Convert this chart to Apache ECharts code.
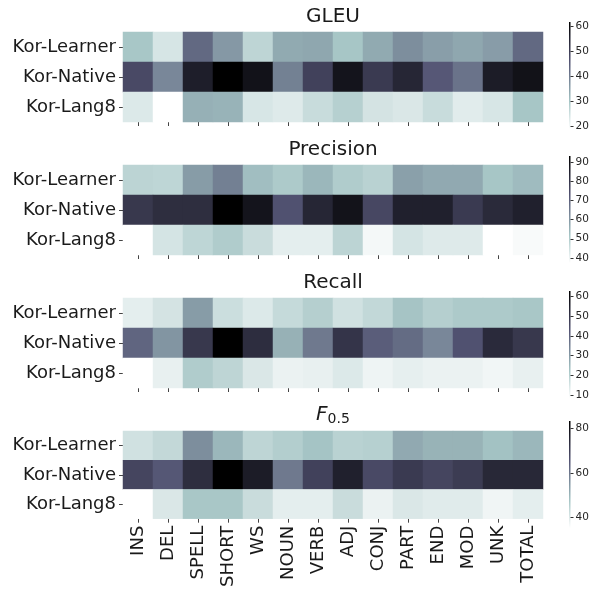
<!DOCTYPE html>
<html><head><meta charset="utf-8">
<script src="https://cdn.jsdelivr.net/npm/echarts@6/dist/echarts.min.js"></script>
<style>html,body{margin:0;padding:0;background:#fff}#c{width:590px;height:590px}</style>
</head><body><div id="c"></div>
<script>
const categories = ['INS','DEL','SPELL','SHORT','WS','NOUN','VERB','ADJ','CONJ','PART','END','MOD','UNK','TOTAL'];
const corpora = ['Kor-Learner','Kor-Native','Kor-Lang8'];

const gleuLearner = [29.6, 23.8, 42.9, 36.3, 26.8, 33.8, 34.2, 29.7, 33.8, 37.7, 35.4, 34.2, 35.7, 42.9];
const gleuNative  = [47.9, 38.6, 56.1, 61.9, 58.4, 39.6, 49.3, 58.0, 50.6, 54.5, 45.4, 41.5, 56.5, 58.5];
const gleuLang8   = [23.1, 18.8, 32.9, 32.5, 23.7, 22.9, 25.6, 27.8, 24.1, 23.4, 25.6, 22.5, 23.7, 29.7];
const gleuRange = [18.8, 61.9];
const gleuTicks = [20, 30, 40, 50, 60];

const precLearner = [48.0, 47.7, 59.3, 64.3, 53.0, 50.6, 54.3, 50.1, 48.5, 58.5, 56.8, 56.8, 51.5, 53.5];
const precNative  = [79.2, 81.7, 81.7, 93.0, 88.0, 73.0, 83.5, 88.3, 75.5, 85.0, 85.0, 78.5, 82.5, 85.0];
const precLang8   = [37.4, 44.2, 47.7, 50.1, 46.1, 41.7, 41.7, 48.0, 39.1, 44.2, 42.6, 42.6, 37.4, 38.5];
const precRange = [37.4, 93.0];
const precTicks = [40, 50, 60, 70, 80, 90];

const recLearner = [12.7, 15.2, 29.9, 16.7, 13.9, 17.6, 20.1, 15.8, 18.0, 22.6, 20.1, 21.4, 21.4, 22.0];
const recNative  = [39.6, 31.1, 49.4, 62.9, 51.9, 26.2, 36.0, 50.2, 40.9, 38.4, 33.5, 43.3, 52.6, 49.4];
const recLang8   = [8.5, 12.1, 20.9, 18.6, 14.3, 11.7, 12.1, 13.9, 11.2, 12.4, 11.7, 11.7, 10.7, 12.1];
const recRange = [8.5, 62.9];
const recTicks = [10, 20, 30, 40, 50, 60];

const f05Learner = [41.8, 43.7, 56.4, 50.0, 44.3, 45.9, 47.9, 45.0, 45.4, 52.1, 50.7, 50.7, 48.3, 50.0];
const f05Native  = [68.6, 65.0, 73.6, 83.3, 77.3, 59.6, 69.3, 76.4, 67.8, 70.8, 68.6, 70.4, 74.7, 74.7];
const f05Lang8   = [35.4, 40.5, 47.3, 47.3, 42.9, 39.1, 39.1, 42.9, 38.2, 40.5, 39.6, 39.6, 37.5, 39.1];
const f05Range = [35.4, 83.3];
const f05Ticks = [40, 60, 80];

const panels = [
  {title: 'GLEU', rows: [gleuLearner, gleuNative, gleuLang8], range: gleuRange, ticks: gleuTicks},
  {title: 'Precision', rows: [precLearner, precNative, precLang8], range: precRange, ticks: precTicks},
  {title: 'Recall', rows: [recLearner, recNative, recLang8], range: recRange, ticks: recTicks},
  {title: 'F0.5', rows: [f05Learner, f05Native, f05Lang8], range: f05Range, ticks: f05Ticks}
];

// matplotlib bone_r colormap
function interp(segs, x) {
  for (let i = 1; i < segs.length; i++) {
    if (x <= segs[i][0]) {
      const a = segs[i-1], b = segs[i];
      return a[1] + (b[1] - a[1]) * (x - a[0]) / (b[0] - a[0]);
    }
  }
  return segs[segs.length-1][1];
}
function boneR(t) {
  const s = 1 - t;
  const r = interp([[0,0],[0.746032,0.652778],[1,1]], s);
  const g = interp([[0,0],[0.365079,0.319444],[0.746032,0.777778],[1,1]], s);
  const b = interp([[0,0],[0.365079,0.444444],[1,1]], s);
  return 'rgb(' + Math.round(r*255) + ',' + Math.round(g*255) + ',' + Math.round(b*255) + ')';
}
const N = 40;
const boneColors = [];
for (let i = 0; i <= N; i++) boneColors.push(boneR(i / N));
const gradStops = [];
for (let i = 0; i <= N; i++) gradStops.push({offset: i / N, color: boneR(1 - i / N)});

const heatTops = [32, 165, 298, 431];
const barTops = [22, 156, 291, 421];
const FONT = 'DejaVu Sans';
const grid = [], xAxis = [], yAxis = [], series = [], visualMap = [], graphic = [];

panels.forEach((p, k) => {
  grid.push({left: 123, top: heatTops[k], width: 420, height: 90, containLabel: false});
  xAxis.push({
    type: 'category', gridIndex: k, data: categories,
    axisLine: {show: false},
    axisTick: {show: true, alignWithLabel: true, length: 4, lineStyle: {color: '#444', width: 1}},
    axisLabel: {show: k === 3, rotate: 90, fontSize: 18, color: '#1a1a1a', margin: 7, fontFamily: FONT},
    splitLine: {show: false}, splitArea: {show: false}
  });
  yAxis.push({
    type: 'category', gridIndex: k, data: corpora, inverse: true,
    axisLine: {show: false},
    axisTick: {show: true, alignWithLabel: true, length: 4, lineStyle: {color: '#444', width: 1}},
    axisLabel: {fontSize: 18, color: '#1a1a1a', margin: 7, fontFamily: FONT},
    splitLine: {show: false}, splitArea: {show: false}
  });
  const data = [];
  p.rows.forEach((row, r) => row.forEach((v, c) => data.push([c, r, v])));
  series.push({
    type: 'heatmap', xAxisIndex: k, yAxisIndex: k, data: data,
    itemStyle: {borderWidth: 0},
    emphasis: {disabled: true}, progressive: 0
  });
  visualMap.push({
    type: 'continuous', show: false, seriesIndex: k, dimension: 2,
    min: p.range[0], max: p.range[1], inRange: {color: boneColors}
  });
});

// colorbars
panels.forEach((p, k) => {
  const gi = 4 + k;
  grid.push({left: 569, top: barTops[k], width: 6, height: 107, show: true, borderWidth: 0,
    backgroundColor: {type: 'linear', x: 0, y: 0, x2: 0, y2: 1, colorStops: gradStops}});
  xAxis.push({type: 'category', gridIndex: gi, data: [''], show: false});
  yAxis.push({
    type: 'value', gridIndex: gi, min: p.range[0], max: p.range[1], position: 'right',
    axisLine: {show: false},
    axisTick: {show: true, length: 3, lineStyle: {color: '#333'}, customValues: p.ticks},
    axisLabel: {fontSize: 10.5, color: '#262626', margin: 5, fontFamily: FONT, customValues: p.ticks},
    splitLine: {show: false}
  });
});

// titles
const titleY = [17, 150, 283, 415];
panels.forEach((p, k) => {
  if (k < 3) {
    graphic.push({type: 'text', x: 333, y: titleY[k],
      style: {text: p.title, font: '20px "DejaVu Sans"', fill: '#1a1a1a', textAlign: 'center', textVerticalAlign: 'middle'}});
  }
});
graphic.push({type: 'text', x: 333, y: titleY[3],
  style: {text: '{f|F}{s|0.5}', textAlign: 'center', textVerticalAlign: 'middle',
    rich: {
      f: {fontFamily: FONT, fontStyle: 'italic', fontSize: 20, fill: '#1a1a1a', color: '#1a1a1a', lineHeight: 24, verticalAlign: 'middle'},
      s: {fontFamily: FONT, fontSize: 14, fill: '#1a1a1a', color: '#1a1a1a', lineHeight: 24, padding: [9, 0, 0, 0], verticalAlign: 'middle'}
    }}});

const chart = echarts.init(document.getElementById('c'), null, {renderer: 'canvas'});
chart.setOption({
  animation: false, backgroundColor: '#fff',
  textStyle: {fontFamily: FONT},
  grid, xAxis, yAxis, series, visualMap, graphic
});
</script></body></html>
